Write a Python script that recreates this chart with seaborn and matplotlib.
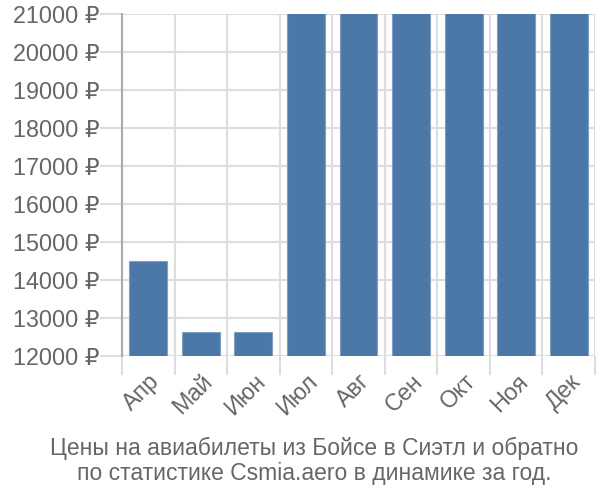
import matplotlib
matplotlib.use("Agg")
import matplotlib.pyplot as plt
import seaborn as sns
import pandas as pd
import numpy as np
from matplotlib.ticker import FixedLocator, FuncFormatter

months = ["Апр", "Май", "Июн", "Июл", "Авг", "Сен", "Окт", "Ноя", "Дек"]
prices = [14490, 12630, 12630, 21500, 21500, 21500, 21500, 21500, 21500]
y_ticks = [12000, 13000, 14000, 15000, 16000, 17000, 18000, 19000, 20000, 21000]
title = "Цены на авиабилеты из Бойсе в Сиэтл и обратно\nпо статистике Csmia.aero в динамике за год."

sns.set_style("white")
plt.rcParams['font.family'] = ['Liberation Sans', 'DejaVu Sans']

df = pd.DataFrame({"month": months, "price": prices})

fig = plt.figure(figsize=(6, 5), dpi=100)
ax = fig.add_axes([122/600, 1 - 356/500, 473/600, 342/500])

sns.barplot(data=df, x="month", y="price", color="#4c78a8", saturation=1,
            width=0.72, edgecolor="#7f9fc4", linewidth=0.8, ax=ax, zorder=3)

ax.set_ylim(12000, 21000)
ax.set_xlim(-0.5, len(months) - 0.5)
ax.set_xlabel("")
ax.set_ylabel("")

grid_c = "#dddddd"
text_c = "#666666"
fs = 16.8

ax.yaxis.set_major_locator(FixedLocator(y_ticks))
ax.yaxis.set_major_formatter(FuncFormatter(lambda v, p: f"{int(v)} ₽"))
ax.tick_params(axis="y", length=16, color=grid_c, width=1.5, labelsize=fs,
               labelcolor=text_c, pad=0, left=True)

ax.set_xticks(range(len(months)))
ax.set_xticklabels(months, rotation=45, ha="right", rotation_mode="anchor")
ax.xaxis.set_minor_locator(FixedLocator(np.arange(-0.5, len(months), 1.0)))
ax.tick_params(axis="x", which="major", length=0, labelsize=fs, labelcolor=text_c, pad=10)
ax.tick_params(axis="x", which="minor", length=14, color=grid_c, width=1.5, bottom=True)

ax.grid(axis="y", which="major", color=grid_c, linewidth=1.5, zorder=0)
ax.grid(axis="x", which="minor", color=grid_c, linewidth=1.5, zorder=0)
ax.set_axisbelow(True)

for s in ["top", "right", "bottom"]:
    ax.spines[s].set_visible(False)
ax.spines["left"].set_color("#aaaaaa")
ax.spines["left"].set_linewidth(1.5)

fig.text(314/600, 1 - 461/500, title, ha="center", va="center", fontsize=16.5,
         color=text_c, linespacing=1.15)

fig.savefig("out.png", dpi=100)
